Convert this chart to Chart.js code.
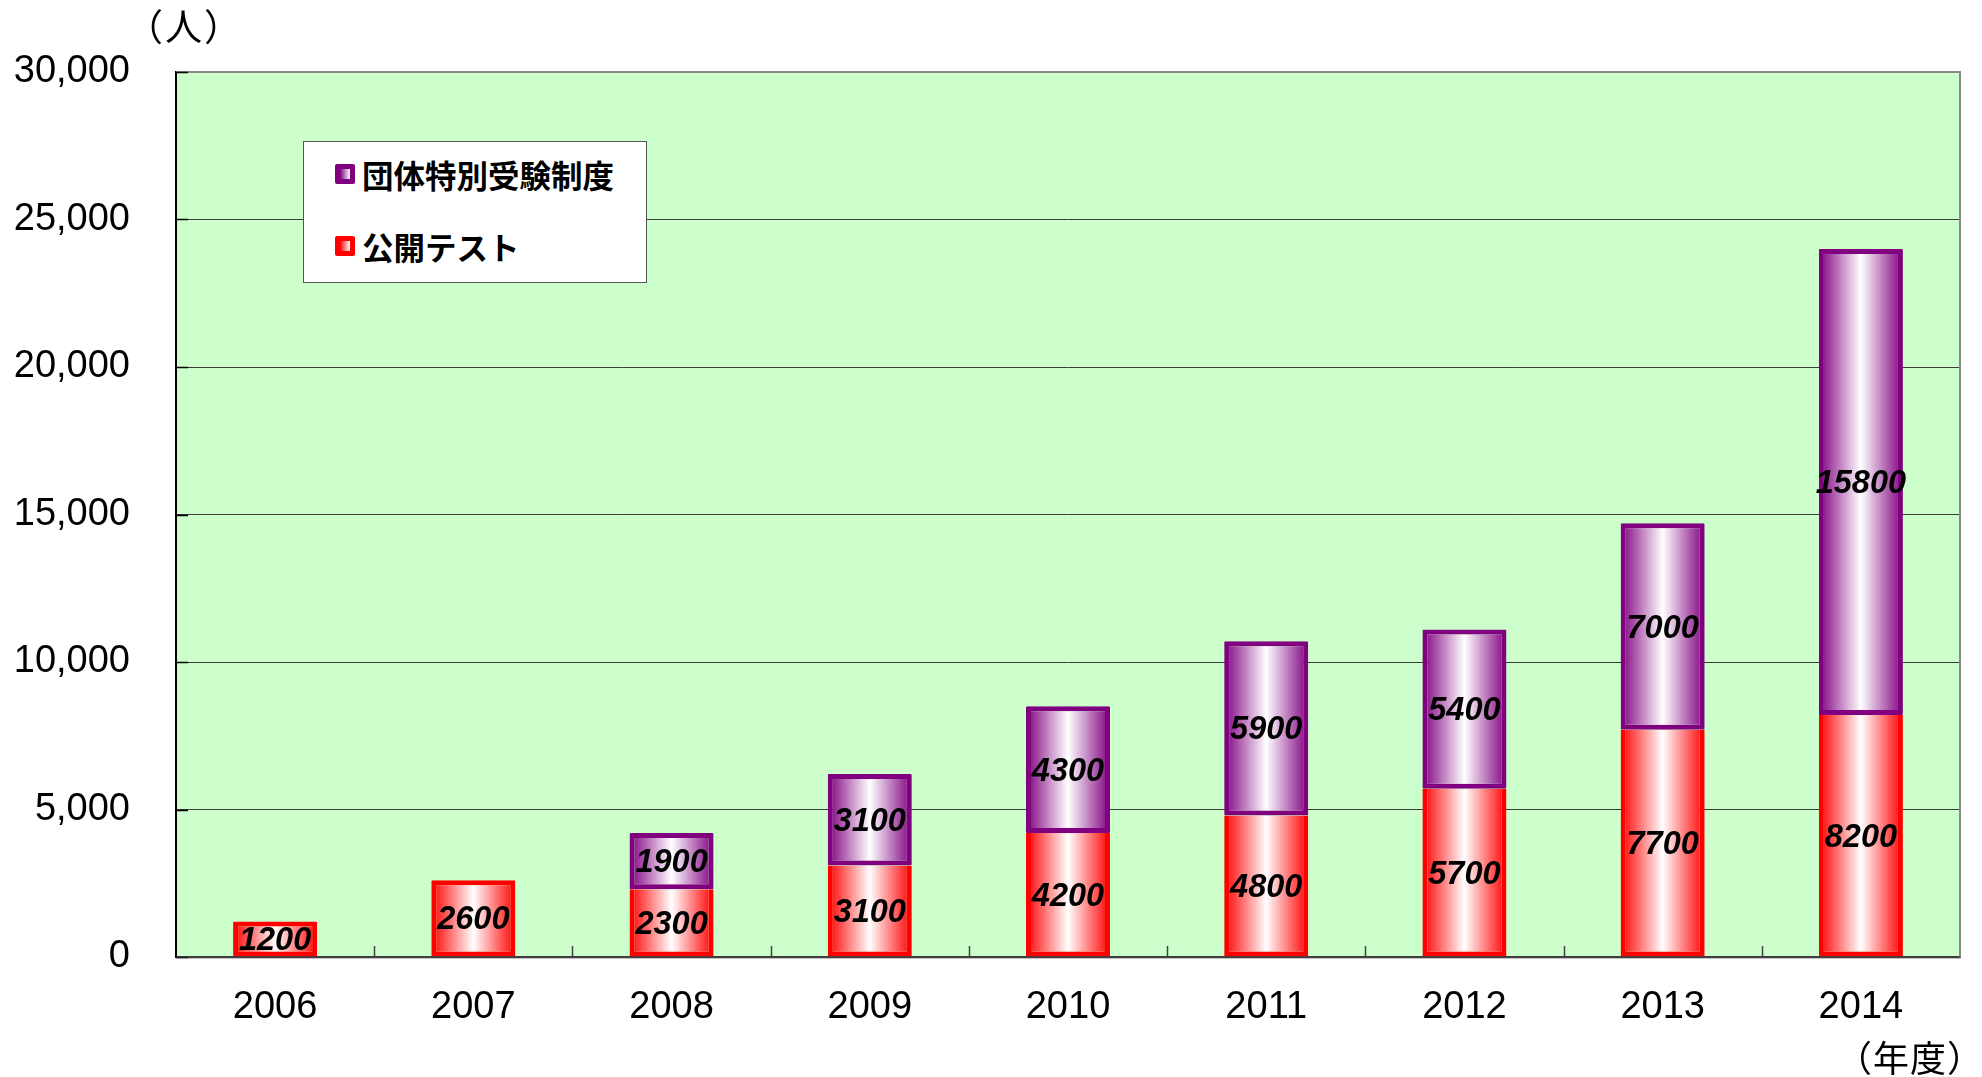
<!DOCTYPE html>
<html>
<head>
<meta charset="utf-8">
<script src="https://cdn.jsdelivr.net/npm/chart.js@4/dist/chart.umd.min.js"></script>
<style>
  html, body { margin: 0; padding: 0; background: #ffffff; }
  #wrap { position: relative; width: 1982px; height: 1077px; }
  canvas { position: absolute; left: 0; top: 0; }
  #legend { position: absolute; left: 303px; top: 141px; width: 344px; height: 142px;
    background: #ffffff; border: 1px solid #555555; box-sizing: border-box; }
  .item { position: absolute; left: 31px; height: 40px; display: flex; align-items: center;
    font-family: "Noto Sans CJK JP", sans-serif; font-weight: bold; font-size: 31.5px; color: #000; white-space: nowrap; }
  .mk { width: 20px; height: 20px; box-sizing: border-box; border: 5px solid; margin-right: 7px; border-radius: 2px; }
</style>
</head>
<body>
<div id="wrap">
  <canvas id="c" width="1982" height="1077"></canvas>
  <div id="legend"></div>
</div>
<script>
// ---- data ----
const categories = ['2006', '2007', '2008', '2009', '2010', '2011', '2012', '2013', '2014'];
const seriesNames = ['公開テスト', '団体特別受験制度'];
const publicTest = [1200, 2600, 2300, 3100, 4200, 4800, 5700, 7700, 8200];
const groupExam = [null, null, 1900, 3100, 4300, 5900, 5400, 7000, 15800];
const yTicks = [0, 5000, 10000, 15000, 20000, 25000, 30000];
const yUnit = '（人）';
const xUnit = '（年度）';

const RED = '#ff0000';
const PURPLE = '#800080';
const BAR_PCT = 0.424;

function grad(ctx, color) {
  const chart = ctx.chart;
  const xs = chart.scales && chart.scales.x;
  if (!xs || ctx.type !== 'data' || !isFinite(xs.width) || xs.width <= 0) return color;
  const c = xs.getPixelForValue(ctx.dataIndex);
  const w = (xs.width / categories.length) * BAR_PCT;
  const g = chart.ctx.createLinearGradient(c - w / 2, 0, c + w / 2, 0);
  g.addColorStop(0, color);
  g.addColorStop(0.5, '#ffffff');
  g.addColorStop(1, color);
  return g;
}

const bgPlugin = {
  id: 'bg',
  beforeDraw(chart) {
    const a = chart.chartArea, c = chart.ctx;
    c.save();
    c.fillStyle = '#ccffcc';
    c.fillRect(a.left, a.top, a.right - a.left, a.bottom - a.top);
    c.restore();
  },
  beforeDatasetsDraw(chart) {
    const a = chart.chartArea, c = chart.ctx, xs = chart.scales.x;
    c.save();
    c.strokeStyle = '#888888';
    c.lineWidth = 2;
    c.beginPath();
    c.moveTo(a.left, a.top);
    c.lineTo(a.right, a.top);
    c.lineTo(a.right, a.bottom);
    c.stroke();
    c.strokeStyle = '#404040';
    c.lineWidth = 1.5;
    const cw = xs.width / categories.length;
    for (let i = 1; i < categories.length; i++) {
      const x = Math.round(xs.left + cw * i) + 0.5;
      c.beginPath();
      c.moveTo(x, a.bottom);
      c.lineTo(x, a.bottom - 11);
      c.stroke();
    }
    c.strokeStyle = '#000000';
    yTicks.forEach(v => {
      const y = Math.round(chart.scales.y.getPixelForValue(v)) + 0.5;
      c.beginPath();
      c.moveTo(a.left, y);
      c.lineTo(a.left + 12, y);
      c.stroke();
    });
    c.restore();
  },
  afterDatasetsDraw(chart) {
    const c = chart.ctx, a = chart.chartArea;
    c.save();
    c.strokeStyle = 'rgba(64,64,64,0.6)';
    c.lineWidth = 2;
    c.beginPath();
    c.moveTo(a.left, a.bottom + 0.5);
    c.lineTo(a.right, a.bottom + 0.5);
    c.stroke();
    c.font = 'italic bold 32.5px "Liberation Sans", Arial, sans-serif';
    c.fillStyle = '#000000';
    c.textAlign = 'center';
    c.textBaseline = 'middle';
    chart.data.datasets.forEach((ds, di) => {
      const meta = chart.getDatasetMeta(di);
      meta.data.forEach((el, i) => {
        const v = ds.data[i];
        if (v == null) return;
        const yc = (el.y + el.base) / 2;
        c.fillText(String(v), el.x, yc + 2);
      });
    });
    c.font = '37px "Noto Sans CJK JP", sans-serif';
    c.letterSpacing = '2px';
    c.textAlign = 'left';
    c.fillText(yUnit, 126, 27);
    c.font = '36px "Noto Sans CJK JP", sans-serif';
    c.letterSpacing = '1px';
    c.textAlign = 'right';
    c.fillText(xUnit, 1984, 1058);
    c.restore();
  }
};

const chart = new Chart(document.getElementById('c'), {
  type: 'bar',
  data: {
    labels: categories,
    datasets: [
      {
        label: seriesNames[0],
        data: publicTest,
        backgroundColor: (ctx) => grad(ctx, RED),
        borderColor: RED,
        borderWidth: (ctx) => ({ left: 5, right: 5, bottom: 5, top: groupExam[ctx.dataIndex] ? 0 : 5 }),
        borderSkipped: false,
        barPercentage: BAR_PCT,
        categoryPercentage: 1.0,
        borderRadius: 1
      },
      {
        label: seriesNames[1],
        data: groupExam,
        backgroundColor: (ctx) => grad(ctx, PURPLE),
        borderColor: PURPLE,
        borderWidth: 5,
        borderSkipped: false,
        barPercentage: BAR_PCT,
        categoryPercentage: 1.0,
        borderRadius: 1
      }
    ]
  },
  options: {
    responsive: false,
    animation: false,
    devicePixelRatio: 1,
    layout: { padding: { top: 72, right: 22, left: 0, bottom: 0 } },
    plugins: { legend: { display: false }, tooltip: { enabled: false } },
    scales: {
      x: {
        stacked: true,
        grid: { display: false, drawTicks: false },
        border: { display: true, color: '#404040', width: 2 },
        ticks: { padding: 28, color: '#000000', font: { family: '"Liberation Sans", Arial, sans-serif', size: 38 } },
        afterFit: (s) => { s.height = 120; }
      },
      y: {
        stacked: true,
        min: 0,
        max: 30000,
        afterBuildTicks: (s) => { s.ticks = yTicks.map(v => ({ value: v })); },
        grid: { color: '#3a3a3a', lineWidth: 1, drawTicks: false },
        border: { display: true, color: '#000000', width: 2 },
        ticks: {
          padding: 46,
          color: '#000000',
          font: { family: '"Liberation Sans", Arial, sans-serif', size: 38 },
          callback: (v) => Number(v).toLocaleString('en-US')
        },
        afterFit: (s) => { s.width = 176; }
      }
    }
  },
  plugins: [bgPlugin]
});

const legend = document.getElementById('legend');
[1, 0].forEach((di, row) => {
  const ds = chart.data.datasets[di];
  const item = document.createElement('div');
  item.className = 'item';
  item.style.top = (row === 0 ? 153 : 225) - 141 + 'px';
  const mk = document.createElement('span');
  mk.className = 'mk';
  mk.style.borderColor = ds.borderColor;
  mk.style.background = 'linear-gradient(to right, ' + ds.borderColor + ', #ffffff)';
  const tx = document.createElement('span');
  tx.textContent = ds.label;
  item.appendChild(mk);
  item.appendChild(tx);
  legend.appendChild(item);
});
</script>
</body>
</html>
